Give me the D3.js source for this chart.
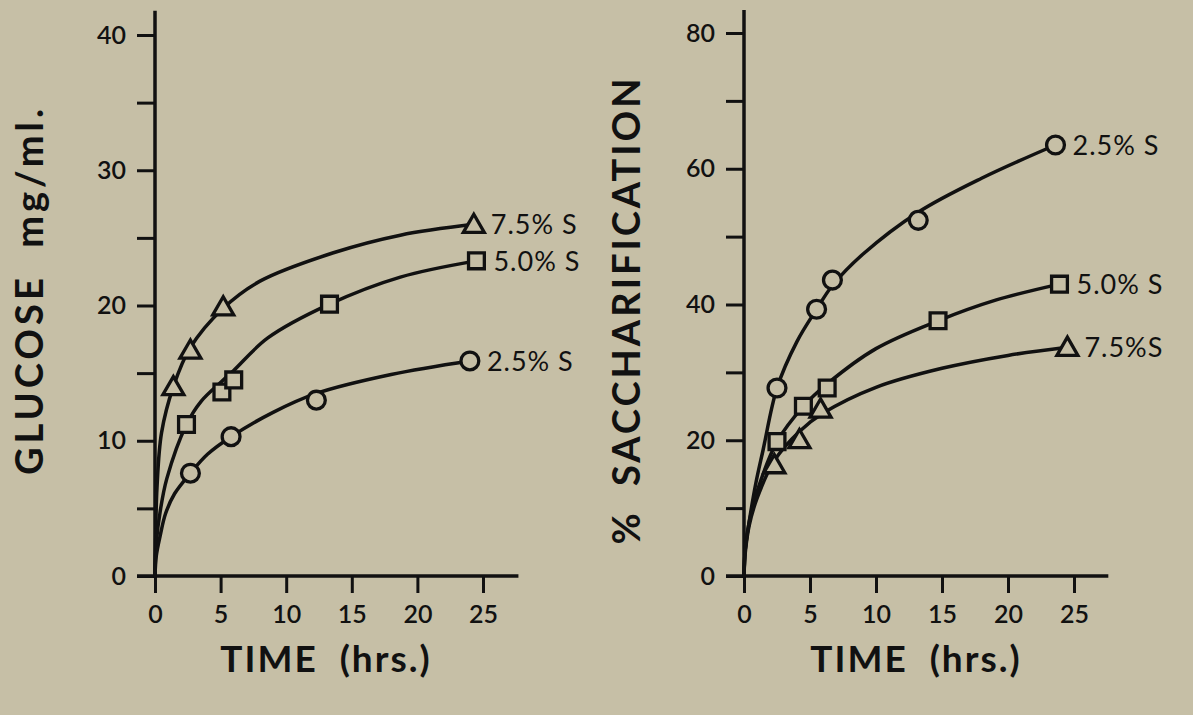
<!DOCTYPE html>
<html><head><meta charset="utf-8">
<script src="https://cdn.jsdelivr.net/npm/d3@7"></script>
<style>
html,body{margin:0;padding:0;background:#c6bfa6;}
svg{display:block;}
text{font-family:Lato,"DejaVu Sans",sans-serif;fill:#111;}
</style></head>
<body>
<svg id="chart" width="1193" height="715"></svg>
<script>
// ---------- DATA ----------
const xTicks = [0,5,10,15,20,25];
const leftYTicks = [0,5,10,15,20,25,30,35,40];
const rightYTicks = [0,10,20,30,40,50,60,70,80];

// Left panel: glucose mg/ml  (measured points)
const gluc75 = [[1.4,14.0],[2.7,16.7],[5.2,19.9],[24.3,26.0]];
const gluc50 = [[2.4,11.2],[5.1,13.6],[6.0,14.5],[13.3,20.1],[24.5,23.3]];
const gluc25 = [[2.7,7.6],[5.8,10.3],[12.3,13.0],[24.0,15.9]];
// Left panel: hand-drawn fitted curves
const glucCurve75 = [[0,0],[0.05,3],[0.15,6.5],[0.5,10.6],[1.4,14.0],[2.7,16.9],[5.2,19.8],[8,21.8],[13.6,23.9],[18.7,25.2],[24.3,26.0]];
const glucCurve50 = [[0,0],[0.1,2.5],[0.4,4.8],[0.9,7.2],[2.4,11.2],[3.5,12.9],[5.1,14.4],[6,15.2],[8.6,17.6],[13.3,20.1],[18.7,22.1],[24.5,23.3]];
const glucCurve25 = [[0,0],[0.1,1.5],[0.4,3.0],[0.8,4.6],[1.5,6.1],[2.7,7.6],[4,9.0],[5.8,10.3],[9,12.1],[12.3,13.5],[18,14.9],[24,15.9]];

// Right panel: % saccharification (measured points)
const sac25 = [[2.5,27.7],[5.5,39.3],[6.7,43.6],[13.2,52.4],[23.6,63.5]];
const sac50 = [[2.5,19.8],[4.5,25.0],[6.3,27.7],[14.7,37.6],[23.9,43.0]];
const sac75 = [[2.3,16.4],[4.2,20.1],[5.8,24.6],[24.5,33.7]];
// Right panel: fitted curves
const sacCurve25 = [[0,0],[0.1,4],[0.45,8.7],[0.9,13.7],[1.45,18.6],[2.5,27.7],[4,34.5],[5.5,39.3],[6.7,42.8],[9,47.4],[13.2,53.6],[18,58.6],[23.6,63.5]];
const sacCurve50 = [[0,0],[0.1,4],[0.4,8],[1,12.5],[2.5,19.8],[4.5,25.0],[6.3,28.3],[10,33.5],[14.7,37.6],[19,40.6],[23.9,43.0]];
const sacCurve75 = [[0,0],[0.1,3.5],[0.4,7.5],[1,11.5],[2.3,17.0],[4.2,21.3],[6,24.0],[10,27.8],[15,30.6],[20,32.5],[24.5,33.7]];

const leftLabels = ["7.5% S","5.0% S","2.5% S"];
const rightLabels = ["2.5% S","5.0% S","7.5%S"];

// ---------- DRAW ----------
const svg = d3.select("#chart");
const INK = "#111";
const BG = "#c6bfa6";

function panel(o){
  const x = d3.scaleLinear().domain([0,25]).range([o.x0, o.x25]);
  const y = d3.scaleLinear().domain([0,o.yMaxTick]).range([576, o.yTop]);
  const g = svg.append("g");

  // y axis
  const ya = d3.axisLeft(y).tickValues(o.yTicks).tickSize(18).tickPadding(11)
     .tickFormat(d => o.labelTicks.includes(d) ? d : "");
  const yg = g.append("g").attr("transform",`translate(${x(0)},0)`).call(ya);
  yg.select(".domain").remove();
  yg.selectAll(".tick line").attr("stroke",INK).attr("stroke-width",3);
  yg.selectAll(".tick text").attr("font-size",25).attr("font-weight",600).attr("fill",INK).style("font-family","Lato, sans-serif");
  g.append("line").attr("x1",x(0)).attr("x2",x(0)).attr("y1",y(o.yAxisEnd)).attr("y2",y(0))
    .attr("stroke",INK).attr("stroke-width",3.5);

  // x axis
  const xa = d3.axisBottom(x).tickValues(xTicks).tickSize(17).tickPadding(12);
  const xg = g.append("g").attr("transform",`translate(0,${y(0)})`).call(xa);
  xg.select(".domain").remove();
  xg.selectAll(".tick line").attr("stroke",INK).attr("stroke-width",3);
  xg.selectAll(".tick text").attr("font-size",25).attr("font-weight",600).attr("fill",INK).style("font-family","Lato, sans-serif");
  g.append("line").attr("x1",x(0)-18).attr("x2",x(o.xAxisEnd)).attr("y1",y(0)).attr("y2",y(0))
    .attr("stroke",INK).attr("stroke-width",3.5);

  // titles
  g.append("text").attr("x",(x(0)+x(25))/2 + 7).attr("y",672).attr("text-anchor","middle")
    .attr("font-size",37).attr("font-weight",700).attr("letter-spacing",2).style("white-space","pre")
    .text("TIME\u00a0\u00a0(hrs.)");
  g.append("text").attr("transform",`translate(${o.ytX},${o.ytY}) rotate(-90)`)
    .attr("text-anchor","middle").attr("font-size",38).attr("font-weight",700).attr("letter-spacing",o.ytLS)
    .style("white-space","pre").text(o.yTitle);

  const line = d3.line().x(d=>x(d[0])).y(d=>y(d[1])).curve(d3.curveCatmullRom.alpha(0.5));
  o.series.forEach(s=>{
    g.append("path").attr("d",line(s.curve)).attr("fill","none")
      .attr("stroke",INK).attr("stroke-width",3.5).attr("stroke-linecap","round");
  });
  o.series.forEach(s=>{
    const sym = d3.symbol().type(s.sym).size(s.size);
    g.selectAll(null).data(s.pts).join("path")
      .attr("d",sym)
      .attr("transform",d=>`translate(${x(d[0])},${y(d[1]) + (s.sym===d3.symbolTriangle?2:0)})`)
      .attr("fill",BG).attr("stroke",INK).attr("stroke-width",3.3);
    const last = s.pts[s.pts.length-1];
    g.append("text").attr("x",x(last[0])+17).attr("y",y(last[1])).attr("dy","0.36em")
      .attr("font-size",27).attr("letter-spacing",1).style("white-space","pre").text(s.label);
  });
}

panel({
  x0:155, x25:483, yTop:35, yMaxTick:40, xAxisEnd:27.7, yAxisEnd:41.8,
  yTicks:leftYTicks, labelTicks:[0,10,20,30,40],
  yTitle:"GLUCOSE\u00a0\u00a0mg/ml.", ytX:43, ytY:290, ytLS:4,
  series:[
    {pts:gluc75, curve:glucCurve75, sym:d3.symbolTriangle, size:190, label:leftLabels[0]},
    {pts:gluc50, curve:glucCurve50, sym:d3.symbolSquare, size:250, label:leftLabels[1]},
    {pts:gluc25, curve:glucCurve25, sym:d3.symbolCircle, size:250, label:leftLabels[2]}
  ]
});
panel({
  x0:744, x25:1074, yTop:33, yMaxTick:80, xAxisEnd:27.6, yAxisEnd:83.4,
  yTicks:rightYTicks, labelTicks:[0,20,40,60,80],
  yTitle:"%\u00a0\u00a0SACCHARIFICATION", ytX:640, ytY:310, ytLS:3,
  series:[
    {pts:sac25, curve:sacCurve25, sym:d3.symbolCircle, size:250, label:rightLabels[0]},
    {pts:sac50, curve:sacCurve50, sym:d3.symbolSquare, size:250, label:rightLabels[1]},
    {pts:sac75, curve:sacCurve75, sym:d3.symbolTriangle, size:190, label:rightLabels[2]}
  ]
});
</script>
</body></html>
